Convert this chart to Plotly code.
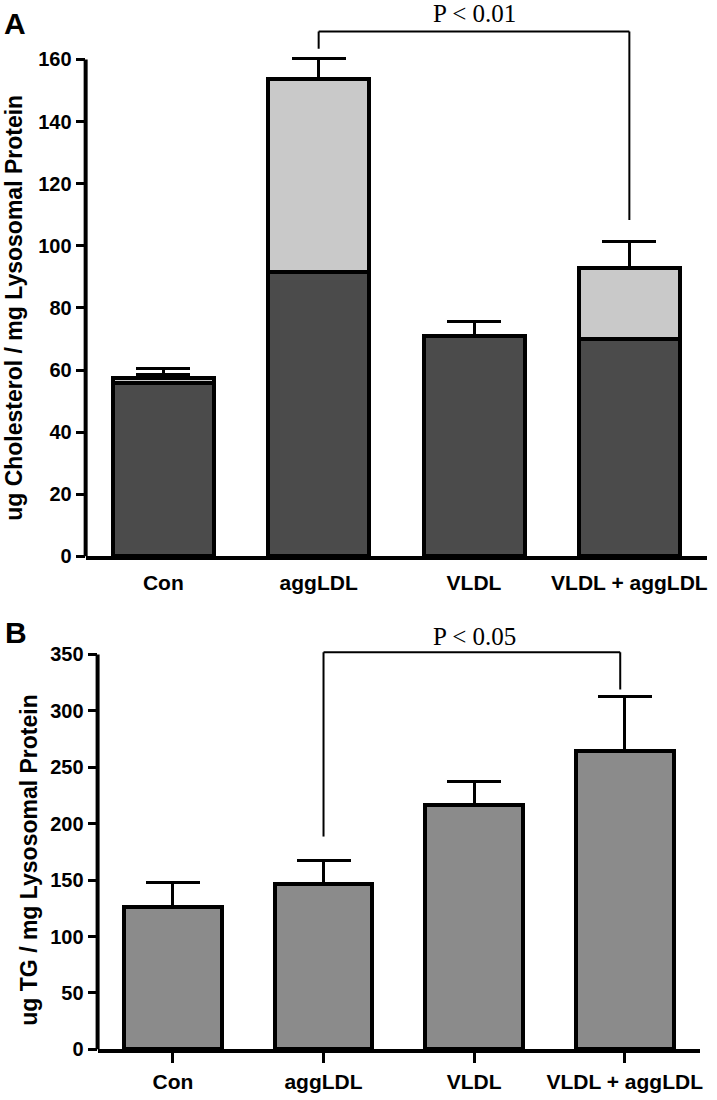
import plotly.graph_objects as go

# ---------------- data ----------------
categories = ["Con", "aggLDL", "VLDL", "VLDL + aggLDL"]

# Panel A: lysosomal cholesterol, stacked (dark lower part + light upper part)
chol_dark = [55.7, 91.7, 71.0, 70.0]
chol_light = [1.6, 62.1, None, 23.0]
chol_dark_err = [2.9, 0.0, 4.5, 0.0]
chol_light_err = [3.2, 6.4, 0.0, 8.3]

# Panel B: lysosomal TG
tg_vals = [126.3, 146.8, 216.7, 264.0]
tg_err = [21.7, 20.7, 21.0, 48.3]

a_tickvals = [0, 20, 40, 60, 80, 100, 120, 140, 160]
b_tickvals = [0, 50, 100, 150, 200, 250, 300, 350]

# significance brackets: category index of legs, leg bottoms, top
a_brk_x = [1, 3]
a_brk_low = [163.4, 108.3]
a_brk_top = 169.0
a_brk_label = "P < 0.01"

b_brk_x = [1, 2.97]
b_brk_low = [188.6, 319.0]
b_brk_top = 352.0
b_brk_label = "P < 0.05"

a_title = "ug Cholesterol / mg Lysosomal Protein"
b_title = "ug TG / mg Lysosomal Protein"

# ---------------- layout geometry (pixels) ----------------
W, H = 717, 1100
A_left, A_right, A_zero, A_scale, A_max = 86, 710, 562, 3.1375, 175
B_left, B_right, B_zero, B_scale, B_max = 98, 703, 1060, 1.14, 370


def py(p):
    return 1 - p / H


A_dom_y = [py(A_zero), py(A_zero - A_max * A_scale)]
B_dom_y = [py(B_zero), py(B_zero - B_max * B_scale)]

DARK = "#4b4b4b"
LIGHT = "#c9c9c9"
MID = "#8b8b8b"
BOLD = dict(family="Liberation Sans, Arial, sans-serif", color="black", weight="bold")


def err(arr, thick=3, w=27):
    return dict(type="data", array=arr, arrayminus=[0] * len(arr), symmetric=False,
                thickness=thick, width=w, color="black", visible=True)


fig = go.Figure()
fig.add_trace(go.Bar(x=categories, y=chol_dark, marker=dict(color=DARK, line=dict(color="black", width=4)),
                     width=0.65, error_y=err(chol_dark_err), xaxis="x", yaxis="y"))
fig.add_trace(go.Bar(x=categories, y=chol_light, marker=dict(color=LIGHT, line=dict(color="black", width=4)),
                     width=0.65, error_y=err(chol_light_err), xaxis="x", yaxis="y"))
fig.add_trace(go.Bar(x=categories, y=tg_vals, marker=dict(color=MID, line=dict(color="black", width=4)),
                     width=0.65, error_y=err(tg_err), xaxis="x2", yaxis="y2"))

common_x = dict(type="category", categoryorder="array", categoryarray=categories,
                range=[-0.5, 3.5], showline=True, linewidth=4, linecolor="black",
                showgrid=False, zeroline=False, tickfont=dict(size=21, **BOLD))
common_y = dict(showline=False, showgrid=False, zeroline=False, ticks="outside",
                ticklen=9, tickwidth=3, tickcolor="black", tickfont=dict(size=20, **BOLD))

fig.update_layout(
    width=W, height=H, margin=dict(l=0, r=0, t=0, b=0),
    paper_bgcolor="white", plot_bgcolor="white", showlegend=False, barmode="stack",
    xaxis=dict(domain=[A_left / W, A_right / W], anchor="y", ticks="outside", ticklen=4,
               tickcolor="rgba(0,0,0,0)", **common_x),
    yaxis=dict(domain=A_dom_y, anchor="x", range=[0, A_max], tickvals=a_tickvals, **common_y),
    xaxis2=dict(domain=[B_left / W, B_right / W], anchor="y2", ticks="outside", ticklen=10,
                tickwidth=3, tickcolor="black", **common_x),
    yaxis2=dict(domain=B_dom_y, anchor="x2", range=[0, B_max], tickvals=b_tickvals, **common_y),
)

shapes = []
# y axis lines limited to the top tick
shapes.append(dict(type="line", xref="paper", yref="y", x0=A_left / W, x1=A_left / W,
                   y0=0, y1=a_tickvals[-1], line=dict(color="black", width=4)))
shapes.append(dict(type="line", xref="paper", yref="y2", x0=B_left / W, x1=B_left / W,
                   y0=0, y1=b_tickvals[-1], line=dict(color="black", width=4)))


def bracket(xr, yr, xs, lows, top):
    out = []
    ln = dict(color="black", width=2)
    out.append(dict(type="line", xref=xr, yref=yr, x0=xs[0], x1=xs[0], y0=lows[0], y1=top, line=ln))
    out.append(dict(type="line", xref=xr, yref=yr, x0=xs[0], x1=xs[1], y0=top, y1=top, line=ln))
    out.append(dict(type="line", xref=xr, yref=yr, x0=xs[1], x1=xs[1], y0=top, y1=lows[1], line=ln))
    return out


shapes += bracket("x", "y", a_brk_x, a_brk_low, a_brk_top)
shapes += bracket("x2", "y2", b_brk_x, b_brk_low, b_brk_top)
fig.update_layout(shapes=shapes)

serif = dict(family="Liberation Serif, Times New Roman, serif", size=25, color="black")
ann = [
    dict(text="A", xref="paper", yref="paper", x=15 / W, y=py(24), showarrow=False,
         font=dict(size=30, **BOLD), xanchor="center", yanchor="middle"),
    dict(text="B", xref="paper", yref="paper", x=16 / W, y=py(639), showarrow=False,
         font=dict(size=30, **BOLD), xanchor="center", yanchor="middle"),
    dict(text=a_brk_label, xref="x", yref="paper", x=sum(a_brk_x) / 2, y=py(14), showarrow=False,
         font=serif, xanchor="center", yanchor="middle"),
    dict(text=b_brk_label, xref="x2", yref="paper", x=2, y=py(643), showarrow=False,
         font=serif, xanchor="center", yanchor="middle"),
    dict(text=a_title, xref="paper", yref="y", x=14 / W, y=80, textangle=-90, showarrow=False,
         font=dict(size=23, **BOLD), xanchor="center", yanchor="middle"),
    dict(text=b_title, xref="paper", yref="y2", x=29 / W, y=168, textangle=-90, showarrow=False,
         font=dict(size=23, **BOLD), xanchor="center", yanchor="middle"),
]
fig.update_layout(annotations=ann)

fig.write_html("out.html",
               config={"displayModeBar": False, "staticPlot": True},
               post_script="document.body.style.margin='0px';document.body.style.overflow='hidden';")
